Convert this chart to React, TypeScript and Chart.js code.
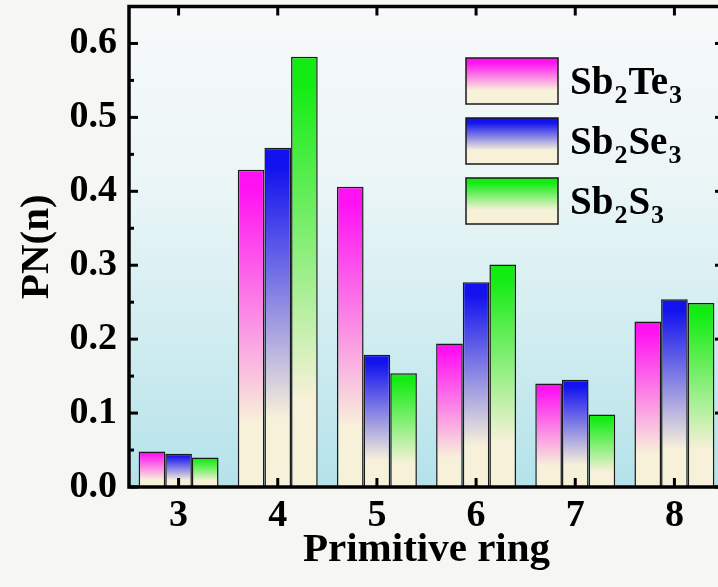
import React, { useEffect, useRef } from "react";
import { Chart, registerables } from "chart.js";

Chart.register(...registerables);

// ---- data ----
const categories = ["3", "4", "5", "6", "7", "8"];
const seriesNames = ["Sb₂Te₃", "Sb₂Se₃", "Sb₂S₃"];
const sb2te3 = [0.048, 0.429, 0.406, 0.194, 0.140, 0.224];
const sb2se3 = [0.045, 0.459, 0.179, 0.277, 0.145, 0.254];
const sb2s3 = [0.040, 0.582, 0.154, 0.301, 0.098, 0.249];
const yTickValues = [0, 0.1, 0.2, 0.3, 0.4, 0.5, 0.6];
const xTitle = "Primitive ring";
const yTitle = "PN(n)";

// ---- style ----
const topColors = ["#ff12f2", "#1212ee", "#12ec12"];
const cream = "#f8f1da";
const FAMILY = '"Liberation Serif", "Times New Roman", Times, serif';
const seriesData = [sb2te3, sb2se3, sb2s3];

function barFill(c: any, color: string) {
  const chart = c.chart;
  if (c.type !== "data" || !chart.chartArea) return color;
  const y = chart.scales.y;
  const v = typeof c.raw === "number" ? c.raw : 0;
  const top = y.getPixelForValue(v);
  const bottom = y.getPixelForValue(0);
  if (!isFinite(top) || !isFinite(bottom) || Math.abs(bottom - top) < 1) return color;
  const g = chart.ctx.createLinearGradient(0, top, 0, bottom);
  g.addColorStop(0, color);
  g.addColorStop(0.06, color);
  g.addColorStop(0.8, cream);
  g.addColorStop(1, cream);
  return g;
}

const bgPlugin = {
  id: "bgPlugin",
  beforeDraw(chart: any) {
    const { ctx, chartArea: a, width, height } = chart;
    ctx.save();
    ctx.fillStyle = "#f6f6f3";
    ctx.fillRect(0, 0, width, height);
    const g = ctx.createLinearGradient(0, a.top, 0, a.bottom);
    g.addColorStop(0, "#f7f9f9");
    g.addColorStop(0.35, "#ecf6f7");
    g.addColorStop(0.7, "#cfecf0");
    g.addColorStop(1, "#b4e2ea");
    ctx.fillStyle = g;
    ctx.fillRect(a.left, a.top, a.right - a.left, a.bottom - a.top);
    ctx.restore();
  },
};

const framePlugin = {
  id: "framePlugin",
  afterDatasetsDraw(chart: any) {
    const { ctx, chartArea: a, scales } = chart;
    const line = (x1: number, y1: number, x2: number, y2: number) => {
      ctx.beginPath();
      ctx.moveTo(x1, y1);
      ctx.lineTo(x2, y2);
      ctx.stroke();
    };
    ctx.save();
    ctx.strokeStyle = "#000";
    ctx.lineWidth = 3;
    const y = scales.y;
    const ticks = y.ticks;
    ticks.forEach((t: any) => {
      const py = y.getPixelForValue(t.value);
      line(a.left, py, a.left + 9, py);
      line(a.right, py, a.right - 9, py);
    });
    for (let i = 0; i < ticks.length - 1; i++) {
      const py = y.getPixelForValue((ticks[i].value + ticks[i + 1].value) / 2);
      line(a.left, py, a.left + 5, py);
      line(a.right, py, a.right - 5, py);
    }
    {
      const last = ticks[ticks.length - 1].value;
      const step = ticks[1].value - ticks[0].value;
      const mv = last + step / 2;
      if (mv < y.max) {
        const py = y.getPixelForValue(mv);
        line(a.left, py, a.left + 5, py);
        line(a.right, py, a.right - 5, py);
      }
    }
    const x = scales.x;
    categories.forEach((_, i) => {
      const px = x.getPixelForValue(i);
      line(px, a.bottom, px, a.bottom - 9);
      line(px, a.top, px, a.top + 9);
    });
    ctx.lineWidth = 3.5;
    ctx.strokeRect(a.left, a.top, a.right - a.left, a.bottom - a.top);
    ctx.restore();
  },
};

const SUBS = "₀₁₂₃₄₅₆₇₈₉";

function drawRich(ctx: any, text: string, x: number, y: number) {
  const main = `bold 39px ${FAMILY}`;
  const sub = `bold 26px ${FAMILY}`;
  let cx = x;
  let buf = "";
  const flush = () => {
    if (!buf) return;
    ctx.font = main;
    ctx.fillText(buf, cx, y);
    cx += ctx.measureText(buf).width;
    buf = "";
  };
  for (const ch of text) {
    const k = SUBS.indexOf(ch);
    if (k >= 0) {
      flush();
      ctx.font = sub;
      const d = String(k);
      ctx.fillText(d, cx + 1, y + 9);
      cx += ctx.measureText(d).width + 2;
    } else {
      buf += ch;
    }
  }
  flush();
}

const legendPlugin = {
  id: "legendPlugin",
  afterDraw(chart: any) {
    const { ctx, chartArea: a } = chart;
    ctx.save();
    const boxX = a.left + 337;
    const boxW = 92;
    const boxH = 46;
    chart.data.datasets.forEach((ds: any, i: number) => {
      const top = a.top + 51.5 + i * 60;
      const g = ctx.createLinearGradient(0, top, 0, top + boxH);
      g.addColorStop(0, topColors[i]);
      g.addColorStop(0.1, topColors[i]);
      g.addColorStop(0.7, cream);
      g.addColorStop(1, cream);
      ctx.fillStyle = g;
      ctx.fillRect(boxX, top, boxW, boxH);
      ctx.strokeStyle = "#1a1a1a";
      ctx.lineWidth = 1.5;
      ctx.strokeRect(boxX, top, boxW, boxH);
      ctx.fillStyle = "#000";
      ctx.textBaseline = "alphabetic";
      ctx.textAlign = "left";
      drawRich(ctx, ds.label, boxX + 104, top + 36);
    });
    ctx.restore();
  },
};

export default function App() {
  const ref = useRef<HTMLCanvasElement | null>(null);
  useEffect(() => {
    if (!ref.current) return;
    const tickFont = { family: FAMILY, size: 38, weight: "bold" as const };
    const titleFont = { family: FAMILY, size: 41, weight: "bold" as const };
    const chart = new Chart(ref.current, {
      type: "bar",
      data: {
        labels: categories,
        datasets: seriesData.map((d, i) => ({
          label: seriesNames[i],
          data: d,
          backgroundColor: (c: any) => barFill(c, topColors[i]),
          borderColor: "#1a1a1a",
          borderWidth: 1.5,
          categoryPercentage: 0.806,
          barPercentage: 1,
        })),
      },
      options: {
        responsive: false,
        animation: false,
        layout: { padding: { top: 6.5, right: 6, left: 0, bottom: 0 } },
        plugins: { legend: { display: false }, tooltip: { enabled: false } },
        scales: {
          x: {
            grid: { display: false, drawTicks: false },
            border: { display: false },
            ticks: { font: tickFont, color: "#000", padding: 6, maxRotation: 0, autoSkip: false },
            title: {
              display: true,
              text: xTitle,
              font: titleFont,
              color: "#000",
              padding: { top: 0, bottom: 12 },
            },
            afterFit(s: any) {
              s.height = 100;
              s.paddingLeft = 0;
              s.paddingRight = 0;
            },
          },
          y: {
            min: 0,
            max: 0.65,
            afterBuildTicks(s: any) {
              s.ticks = yTickValues.map((v) => ({ value: v }));
            },
            grid: { display: false, drawTicks: false },
            border: { display: false },
            ticks: {
              font: tickFont,
              color: "#000",
              padding: 12,
              callback: (v: any) => Number(v).toFixed(1),
            },
            title: {
              display: true,
              text: yTitle,
              font: titleFont,
              color: "#000",
              padding: { top: 13, bottom: 0 },
            },
            afterFit(s: any) {
              s.width = 129;
              s.paddingTop = 0;
              s.paddingBottom = 0;
            },
          },
        },
      },
      plugins: [bgPlugin, framePlugin, legendPlugin],
    });
    return () => chart.destroy();
  }, []);
  return (
    <div
      style={{
        position: "fixed",
        left: 0,
        top: 0,
        width: 718,
        height: 587,
        overflow: "hidden",
        background: "#f6f6f3",
      }}
    >
      <canvas ref={ref} width={730} height={587} style={{ display: "block", width: 730, height: 587 }} />
    </div>
  );
}
